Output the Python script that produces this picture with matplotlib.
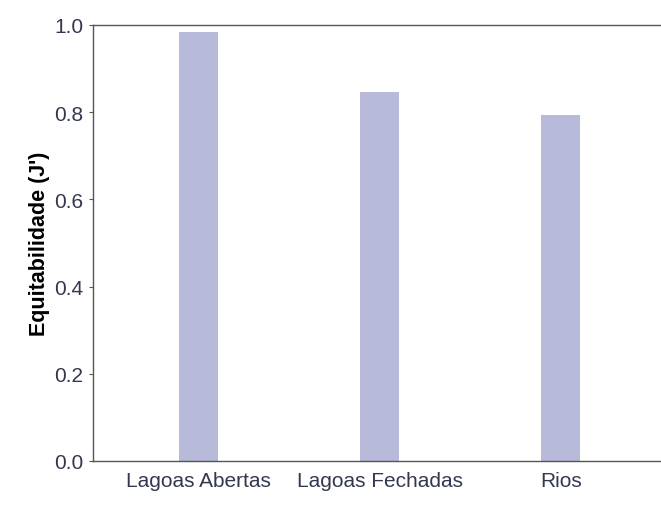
import matplotlib.pyplot as plt
import numpy as np

plt.rcParams['font.family'] = ['Liberation Sans', 'DejaVu Sans']

# dados
ambientes = ['Lagoas Abertas', 'Lagoas Fechadas', 'Rios']
equitabilidade = [0.984, 0.846, 0.794]
yticks = [0.0, 0.2, 0.4, 0.6, 0.8, 1.0]

fig = plt.figure(figsize=(6.61, 5.06), dpi=100)
ax = fig.add_axes([0.1407, 0.087, 0.868, 0.862])

x = np.arange(len(ambientes))
ax.bar(x, equitabilidade, width=0.215, color='#b7bad8', edgecolor='none')

ax.set_xlim(-0.585, 2.585)
ax.set_ylim(0, 1.0)
ax.set_yticks(yticks)
ax.set_yticklabels([f'{v:.1f}' for v in yticks])
ax.set_xticks(x)
ax.set_xticklabels(ambientes)

for s in ax.spines.values():
    s.set_color('#555555')
    s.set_linewidth(1.0)

ax.tick_params(axis='y', direction='out', length=3, color='#555555',
               labelsize=15, labelcolor='#333850', pad=4)
ax.tick_params(axis='x', length=0, labelsize=15, labelcolor='#333850', pad=7)

ax.set_ylabel("Equitabilidade (J')", fontsize=15.5, fontweight='bold', labelpad=3)

fig.savefig('out.png', dpi=100)
